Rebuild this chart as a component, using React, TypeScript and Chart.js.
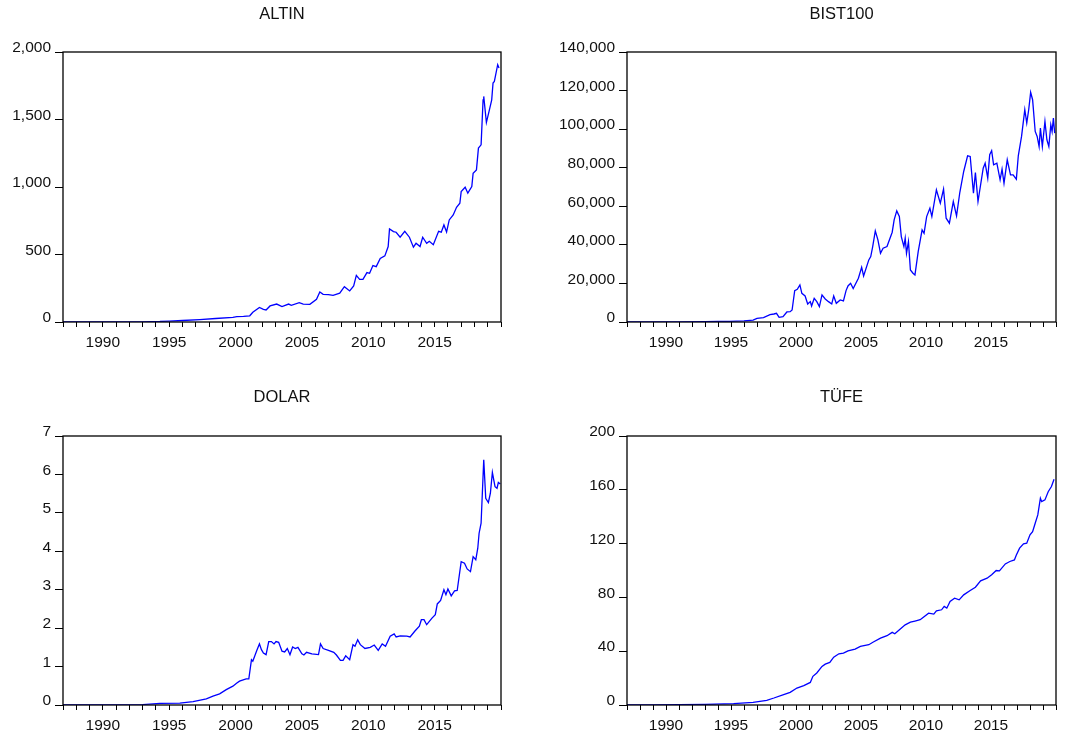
import React, { useEffect, useRef } from 'react';
import { Chart, registerables } from 'chart.js';

Chart.register(...registerables);

const FONT = '"Liberation Sans", Arial, Helvetica, sans-serif';

// ---------- DATA ----------
const altinYears = [1987.0, 1988.5, 1990.0, 1991.5, 1993.0, 1994.3, 1995.0, 1996.0, 1997.3, 1998.5, 1999.8, 2000.1, 2000.6, 2001.07, 2001.3, 2001.8, 2002.1, 2002.3, 2002.6, 2003.1, 2003.5, 2004.0, 2004.2, 2004.8, 2005.1, 2005.6, 2006.1, 2006.35, 2006.6, 2007.0, 2007.35, 2007.85, 2008.2, 2008.6, 2008.9, 2009.1, 2009.35, 2009.6, 2009.9, 2010.1, 2010.35, 2010.6, 2010.9, 2011.25, 2011.5, 2011.6, 2011.9, 2012.1, 2012.4, 2012.75, 2013.1, 2013.4, 2013.6, 2013.9, 2014.1, 2014.4, 2014.6, 2014.9, 2015.3, 2015.5, 2015.7, 2015.9, 2016.1, 2016.4, 2016.65, 2016.9, 2017.0, 2017.3, 2017.5, 2017.8, 2017.9, 2018.15, 2018.3, 2018.5, 2018.65, 2018.7, 2018.9, 2019.1, 2019.3, 2019.4, 2019.5, 2019.75, 2019.85];
const altinValues = [0.1, 0.2, 0.4, 0.8, 1.5, 4, 7, 11, 18, 26, 34, 40, 42, 46, 72, 108, 94, 89, 119, 133, 114, 133, 124, 143, 133, 131, 168, 222, 205, 203, 198, 213, 262, 230, 267, 346, 316, 316, 366, 361, 418, 410, 470, 490, 559, 690, 670, 665, 628, 672, 628, 554, 583, 559, 628, 583, 598, 573, 672, 665, 719, 667, 756, 793, 850, 880, 966, 998, 954, 1003, 1102, 1127, 1288, 1312, 1646, 1671, 1478, 1560, 1646, 1770, 1782, 1906, 1881];

const bistYears = [1987.0, 1989.0, 1991.0, 1993.0, 1994.0, 1994.9, 1996.0, 1996.7, 1997.0, 1997.5, 1998.0, 1998.3, 1998.5, 1998.7, 1999.0, 1999.3, 1999.55, 1999.7, 1999.9, 2000.1, 2000.3, 2000.45, 2000.7, 2000.9, 2001.1, 2001.2, 2001.4, 2001.6, 2001.8, 2002.0, 2002.25, 2002.5, 2002.75, 2002.9, 2003.1, 2003.4, 2003.65, 2003.85, 2004.0, 2004.2, 2004.4, 2004.8, 2005.05, 2005.2, 2005.6, 2005.75, 2005.9, 2006.1, 2006.3, 2006.5, 2006.7, 2007.0, 2007.4, 2007.55, 2007.75, 2007.95, 2008.1, 2008.3, 2008.4, 2008.5, 2008.65, 2008.8, 2009.0, 2009.15, 2009.4, 2009.7, 2009.85, 2010.05, 2010.3, 2010.45, 2010.8, 2011.1, 2011.35, 2011.55, 2011.8, 2012.1, 2012.35, 2012.6, 2012.9, 2013.2, 2013.4, 2013.65, 2013.8, 2014.0, 2014.4, 2014.55, 2014.75, 2014.9, 2015.05, 2015.2, 2015.45, 2015.7, 2015.85, 2016.0, 2016.25, 2016.5, 2016.7, 2016.95, 2017.1, 2017.35, 2017.6, 2017.75, 2017.9, 2018.05, 2018.2, 2018.4, 2018.55, 2018.7, 2018.8, 2018.95, 2019.15, 2019.3, 2019.45, 2019.6, 2019.7, 2019.8, 2019.9];
const bistValues = [5, 20, 40, 150, 250, 350, 600, 1000, 1900, 2250, 3800, 4150, 4500, 2400, 2770, 5200, 5360, 6230, 16270, 16960, 19200, 14880, 13500, 9340, 10560, 8300, 12290, 10560, 7960, 14020, 11940, 10560, 9340, 13500, 9690, 11420, 10900, 16270, 18690, 20070, 17300, 22670, 28380, 23880, 32190, 33920, 39110, 47240, 42570, 35650, 38240, 39110, 46550, 52950, 57630, 54680, 44300, 39110, 43430, 35650, 41700, 27000, 25270, 24400, 36510, 47760, 46030, 54680, 59010, 54680, 68530, 61610, 68870, 53820, 51220, 62470, 55030, 67140, 78050, 86180, 85830, 66800, 77530, 62470, 79770, 82370, 74580, 86700, 88780, 81510, 82370, 73720, 79250, 71990, 84100, 76320, 76320, 74060, 86180, 96220, 110060, 103140, 110060, 119060, 115250, 98810, 96220, 91030, 100540, 91030, 104000, 94480, 91030, 102270, 98810, 105730, 97950];

const dolarYears = [1987.0, 1989.0, 1991.0, 1993.0, 1994.3, 1995.8, 1996.8, 1997.8, 1998.3, 1998.8, 1999.3, 1999.8, 2000.1, 2000.3, 2000.8, 2001.0, 2001.2, 2001.3, 2001.6, 2001.8, 2001.95, 2002.1, 2002.3, 2002.5, 2002.7, 2002.9, 2003.05, 2003.25, 2003.5, 2003.7, 2003.9, 2004.1, 2004.3, 2004.5, 2004.7, 2005.0, 2005.15, 2005.35, 2005.75, 2006.25, 2006.4, 2006.6, 2007.0, 2007.4, 2007.6, 2007.9, 2008.1, 2008.3, 2008.6, 2008.85, 2009.0, 2009.2, 2009.4, 2009.75, 2010.15, 2010.45, 2010.75, 2011.05, 2011.3, 2011.65, 2011.95, 2012.1, 2012.4, 2012.9, 2013.15, 2013.5, 2013.85, 2014.0, 2014.2, 2014.4, 2014.8, 2015.05, 2015.2, 2015.45, 2015.7, 2015.85, 2016.0, 2016.25, 2016.5, 2016.7, 2017.0, 2017.25, 2017.45, 2017.7, 2017.9, 2018.1, 2018.25, 2018.35, 2018.5, 2018.7, 2018.85, 2019.05, 2019.2, 2019.35, 2019.55, 2019.7, 2019.8, 2019.95];
const dolarValues = [0.001, 0.002, 0.005, 0.012, 0.04, 0.05, 0.09, 0.16, 0.23, 0.29, 0.4, 0.49, 0.57, 0.62, 0.68, 0.68, 1.18, 1.14, 1.42, 1.59, 1.44, 1.35, 1.31, 1.65, 1.65, 1.59, 1.65, 1.63, 1.4, 1.38, 1.47, 1.31, 1.51, 1.47, 1.5, 1.33, 1.3, 1.37, 1.33, 1.31, 1.59, 1.47, 1.42, 1.37, 1.3, 1.16, 1.16, 1.28, 1.18, 1.57, 1.53, 1.7, 1.57, 1.47, 1.5, 1.56, 1.42, 1.59, 1.53, 1.79, 1.85, 1.77, 1.8, 1.79, 1.77, 1.92, 2.05, 2.22, 2.22, 2.09, 2.26, 2.35, 2.63, 2.72, 3.0, 2.87, 3.02, 2.84, 2.97, 2.98, 3.73, 3.69, 3.54, 3.47, 3.86, 3.78, 4.08, 4.47, 4.73, 6.38, 5.38, 5.27, 5.51, 6.05, 5.68, 5.64, 5.79, 5.75];

const tufeYears = [1987.0, 1989.0, 1991.0, 1993.0, 1995.2, 1996.7, 1997.75, 1998.3, 1999.05, 1999.55, 2000.07, 2000.6, 2001.1, 2001.3, 2001.6, 2002.0, 2002.25, 2002.6, 2002.9, 2003.3, 2003.65, 2004.0, 2004.55, 2004.95, 2005.6, 2005.95, 2006.5, 2007.0, 2007.4, 2007.6, 2008.0, 2008.4, 2008.8, 2009.15, 2009.55, 2009.8, 2010.2, 2010.6, 2010.8, 2011.2, 2011.4, 2011.6, 2011.85, 2012.2, 2012.55, 2012.9, 2013.4, 2013.8, 2014.2, 2014.7, 2015.05, 2015.4, 2015.65, 2016.1, 2016.45, 2016.8, 2016.95, 2017.2, 2017.5, 2017.75, 2018.0, 2018.2, 2018.4, 2018.6, 2018.8, 2018.9, 2019.15, 2019.4, 2019.65, 2019.85];
const tufeValues = [0.03, 0.08, 0.2, 0.5, 1.0, 2.0, 3.5, 5.2, 7.7, 9.4, 12.6, 14.4, 16.8, 21.3, 23.8, 28.7, 30.4, 31.7, 35.6, 38.1, 38.6, 40.3, 41.6, 43.6, 44.8, 46.8, 49.7, 51.5, 54.0, 53.0, 56.4, 59.6, 61.6, 62.4, 63.4, 65.3, 68.3, 67.6, 70.0, 70.8, 73.3, 72.0, 77.0, 79.4, 78.2, 81.9, 85.1, 87.6, 92.3, 94.3, 96.8, 100.0, 99.7, 104.9, 106.7, 107.9, 111.6, 116.6, 119.8, 120.3, 126.5, 128.9, 135.1, 141.3, 153.7, 151.2, 152.5, 158.6, 162.4, 167.8];

const panelTitles = ['ALTIN', 'BIST100', 'DOLAR', 'TÜFE'];
const yMaxes = [2000, 140000, 7, 200];
const ySteps = [500, 20000, 1, 40];
const xMin = 1987;
const xMax = 2020;

// ---------- LAYOUT ----------
const CW = 545;
const CH = 370;

type PanelCfg = {
  title: string;
  years: number[];
  values: number[];
  yMax: number;
  yStep: number;
  left: number;
  top: number;
  chartLeft: number;
  chartRight: number;
  chartTop: number;
  chartBottom: number;
  titleCenter: number;
};

const framePlugin = {
  id: 'frameBox',
  afterDraw(chart: any) {
    const { ctx, chartArea: a } = chart;
    ctx.save();
    ctx.strokeStyle = '#000';
    ctx.lineWidth = 1.3;
    ctx.strokeRect(a.left, a.top, a.right - a.left, a.bottom - a.top);
    ctx.restore();
  },
};

function Panel({ cfg }: { cfg: PanelCfg }) {
  const ref = useRef<HTMLCanvasElement | null>(null);
  useEffect(() => {
    if (!ref.current) return;
    const n = Math.min(cfg.years.length, cfg.values.length);
    const pts = [] as { x: number; y: number }[];
    for (let i = 0; i < n; i++) pts.push({ x: cfg.years[i], y: cfg.values[i] });
    const titleSize = 16.5;
    const titleH = titleSize * 1.2;
    const pt = cfg.titleCenter - titleH / 2;
    const pb = cfg.chartTop - titleH - pt;
    const chart = new Chart(ref.current, {
      type: 'line',
      data: {
        datasets: [
          {
            data: pts,
            borderColor: '#0000ff',
            borderWidth: 1.3,
            pointRadius: 0,
            tension: 0,
            fill: false,
          },
        ],
      },
      plugins: [framePlugin],
      options: {
        responsive: false,
        animation: false,
        devicePixelRatio: 1,
        layout: { padding: { left: 0, right: CW - cfg.chartRight, top: 0, bottom: 0 } },
        plugins: {
          legend: { display: false },
          tooltip: { enabled: false },
          title: {
            display: true,
            text: cfg.title,
            fullSize: false,
            color: '#111',
            font: { family: FONT, size: titleSize, weight: 'normal' },
            padding: { top: pt, bottom: pb },
          },
        },
        scales: {
          x: {
            type: 'linear',
            min: xMin,
            max: xMax,
            border: { display: false },
            grid: { drawOnChartArea: false, drawTicks: true, tickLength: 5, color: '#000', lineWidth: 1 },
            ticks: {
              stepSize: 1,
              autoSkip: false,
              maxRotation: 0,
              padding: 6,
              color: '#111',
              font: { family: FONT, size: 15.5 },
              callback: (v: any) => {
                const y = Math.round(Number(v));
                return y % 5 === 0 && y !== xMax ? String(y) : '';
              },
            },
            afterFit: (s: any) => {
              s.height = CH - cfg.chartBottom;
            },
          },
          y: {
            type: 'linear',
            min: 0,
            max: cfg.yMax,
            border: { display: false },
            grid: { drawOnChartArea: false, drawTicks: true, tickLength: 8, color: '#000', lineWidth: 1 },
            ticks: {
              stepSize: cfg.yStep,
              padding: 4,
              labelOffset: -4,
              color: '#111',
              font: { family: FONT, size: 15.5 },
              callback: (v: any) => Number(v).toLocaleString('en-US'),
            },
            afterFit: (s: any) => {
              s.width = cfg.chartLeft;
            },
          },
        },
      } as any,
    });
    return () => chart.destroy();
  }, [cfg]);
  return (
    <canvas
      ref={ref}
      width={CW}
      height={CH}
      style={{ position: 'absolute', left: cfg.left, top: cfg.top, width: CW, height: CH, display: 'block' }}
    />
  );
}

const panels: PanelCfg[] = [
  { title: panelTitles[0], years: altinYears, values: altinValues, yMax: yMaxes[0], yStep: ySteps[0], left: 0, top: 0, chartLeft: 63, chartRight: 501, chartTop: 52, chartBottom: 322, titleCenter: 14 },
  { title: panelTitles[1], years: bistYears, values: bistValues, yMax: yMaxes[1], yStep: ySteps[1], left: 545, top: 0, chartLeft: 82, chartRight: 511, chartTop: 52, chartBottom: 322, titleCenter: 14 },
  { title: panelTitles[2], years: dolarYears, values: dolarValues, yMax: yMaxes[2], yStep: ySteps[2], left: 0, top: 370, chartLeft: 63, chartRight: 501, chartTop: 66, chartBottom: 335, titleCenter: 27 },
  { title: panelTitles[3], years: tufeYears, values: tufeValues, yMax: yMaxes[3], yStep: ySteps[3], left: 545, top: 370, chartLeft: 82, chartRight: 511, chartTop: 66, chartBottom: 335, titleCenter: 27 },
];

export default function App() {
  return (
    <div style={{ position: 'absolute', left: 0, top: 0, width: 1090, height: 740, background: '#fff', overflow: 'hidden' }}>
      {panels.map((p) => (
        <Panel key={p.title} cfg={p} />
      ))}
    </div>
  );
}
